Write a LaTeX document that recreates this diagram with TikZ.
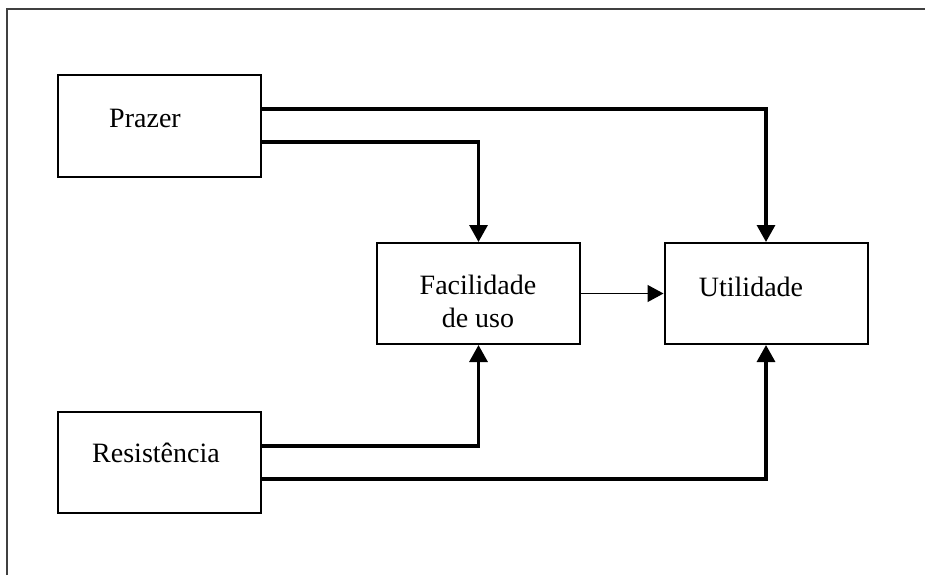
\documentclass[tikz,border=0pt]{standalone}
\usepackage{fontspec}
\setmainfont{Liberation Serif}
\usetikzlibrary{arrows.meta}
\tikzset{
  box/.style={draw=black, line width=2pt, minimum width=203pt, minimum height=101pt, inner sep=0pt},
  txt/.style={font=\fontsize{28}{33}\selectfont, inner sep=0pt, anchor=base},
  conn/.style={line width=3.2pt, -{Triangle[width=18pt,length=17pt]}},
  thinconn/.style={line width=1.3pt, -{Triangle[width=17pt,length=16pt]}},
  frame/.style={draw=black!75, line width=1.5pt}
}
\begin{document}
\begin{tikzpicture}[x=1pt,y=-1pt]
\useasboundingbox (0,0) rectangle (925,575);
\coordinate (fbl) at (7,575);
\coordinate (ftl) at (7,9);
\coordinate (ftr) at (925,9);
\draw[frame] (fbl) -- (ftl) -- (ftr);

\node[box] (P) at (159.5,126) {};
\node[box] (R) at (159.5,462.5) {};
\node[box] (F) at (478.5,293.5) {};
\node[box] (U) at (766,293.5) {};

\node[txt] (tP) at (145,127) {Prazer};
\node[txt] (tR) at (156,462) {Resistência};
\node[txt, align=center] (tF) at (478,327) {Facilidade\\de uso};
\node[txt] (tU) at (751,296) {Utilidade};

\draw[conn] ([yshift=17pt]P.east) -| (U.north);
\draw[conn] ([yshift=-16pt]P.east) -| (F.north);
\draw[conn] ([yshift=16.5pt]R.east) -| (F.south);
\draw[conn] ([yshift=-16.5pt]R.east) -| (U.south);
\draw[thinconn] (F.east) -- (U.west);
\end{tikzpicture}
\end{document}
